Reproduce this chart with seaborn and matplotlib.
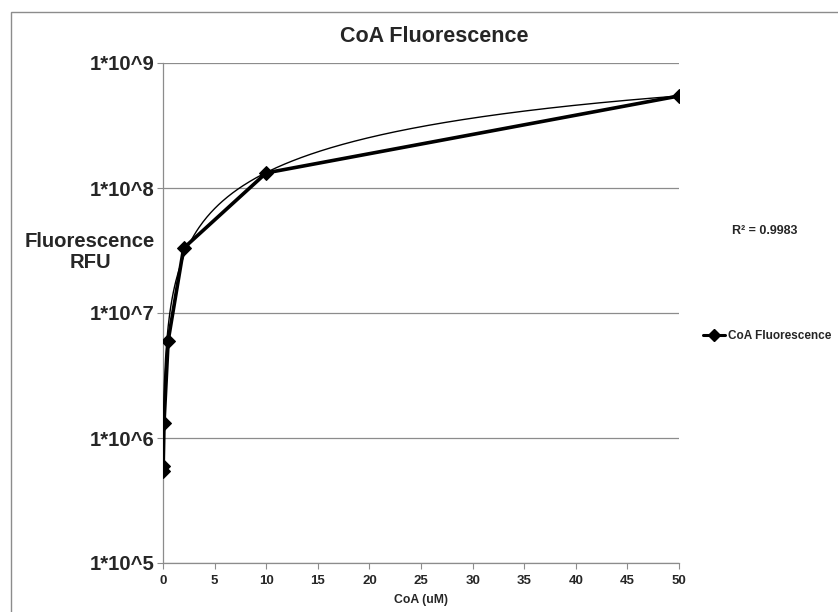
import numpy as np
import pandas as pd
import matplotlib
matplotlib.use("Agg")
import matplotlib.pyplot as plt
import seaborn as sns
from matplotlib.patches import Rectangle

# data
coa_um = [0, 0.02, 0.1, 0.5, 2, 10, 50]
fluorescence = [5.4e5, 6.0e5, 1.33e6, 6.0e6, 3.3e7, 1.32e8, 5.45e8]
y_ticks = [1e5, 1e6, 1e7, 1e8, 1e9]
y_tick_labels = ["1*10^5", "1*10^6", "1*10^7", "1*10^8", "1*10^9"]
x_ticks = [0, 5, 10, 15, 20, 25, 30, 35, 40, 45, 50]
r2_text = "R² = 0.9983"

sns.set_style("white")
plt.rcParams['font.family'] = ['Liberation Sans', 'DejaVu Sans']
plt.rcParams['font.weight'] = 'bold'

W, H = 838, 612
fig = plt.figure(figsize=(W / 100, H / 100), dpi=100)
ax = fig.add_axes([163 / W, 1 - 563 / H, (679 - 163) / W, (563 - 63) / H])

df = pd.DataFrame({"CoA (uM)": coa_um, "Fluorescence": fluorescence})

# polynomial (order 2) trendline
coef = np.polyfit(df["CoA (uM)"], df["Fluorescence"], 2)
xt = np.linspace(0, 50, 400)
yt = np.polyval(coef, xt)
ax.plot(xt, yt, color="black", lw=1.0, zorder=3)

sns.lineplot(data=df, x="CoA (uM)", y="Fluorescence", ax=ax, color="black",
             lw=2.6, marker="D", markersize=7, markeredgecolor="black",
             label="CoA Fluorescence", sort=False, zorder=4, legend=False)

ax.set_yscale("log")
ax.set_ylim(1e5, 1e9)
ax.set_xlim(0, 50)
ax.set_yticks(y_ticks)
ax.set_yticklabels(y_tick_labels, fontsize=14.6, fontweight="bold")
ax.minorticks_off()
ax.set_xticks(x_ticks)
ax.set_xticklabels([str(t) for t in x_ticks], fontsize=9.5, fontweight="bold")
ax.set_xlabel("CoA (uM)", fontsize=8.8, fontweight="bold", labelpad=5)
ax.set_ylabel("")

ax.yaxis.grid(True, color="#8c8c8c", lw=0.9)
ax.xaxis.grid(False)
for s in ["top", "right"]:
    ax.spines[s].set_visible(False)
for s in ["left", "bottom"]:
    ax.spines[s].set_color("#8c8c8c")
    ax.spines[s].set_linewidth(0.9)
ax.tick_params(axis="both", which="major", length=4, color="#8c8c8c",
               direction="out", left=True, bottom=True)
ax.tick_params(axis="y", pad=2)
ax.tick_params(axis="x", pad=5)

fig.text(434 / W, 1 - 36 / H, "CoA Fluorescence", ha="center", va="center",
         fontsize=15.5, fontweight="bold")
fig.text(90 / W, 1 - 252 / H, "Fluorescence\nRFU", ha="center", va="center",
         fontsize=14.6, fontweight="bold", linespacing=1.15)
fig.text(765 / W, 1 - 231 / H, r2_text, ha="center", va="center",
         fontsize=9, fontweight="bold")

handles = [plt.Line2D([], [], color="black", lw=2.2, marker="D", markersize=6)]
fig.legend(handles, ["CoA Fluorescence"], loc="center left",
           bbox_to_anchor=(692 / W, 1 - 336 / H), frameon=False,
           handlelength=1.9, handletextpad=0.25,
           prop={"weight": "bold", "size": 8.5})

fig.patches.append(Rectangle((11 / W, -0.1), 1.2, (1 - 12 / H) + 0.1,
                             transform=fig.transFigure, fill=False,
                             edgecolor="#8c8c8c", lw=1.0))

fig.savefig("out.png", dpi=100)
